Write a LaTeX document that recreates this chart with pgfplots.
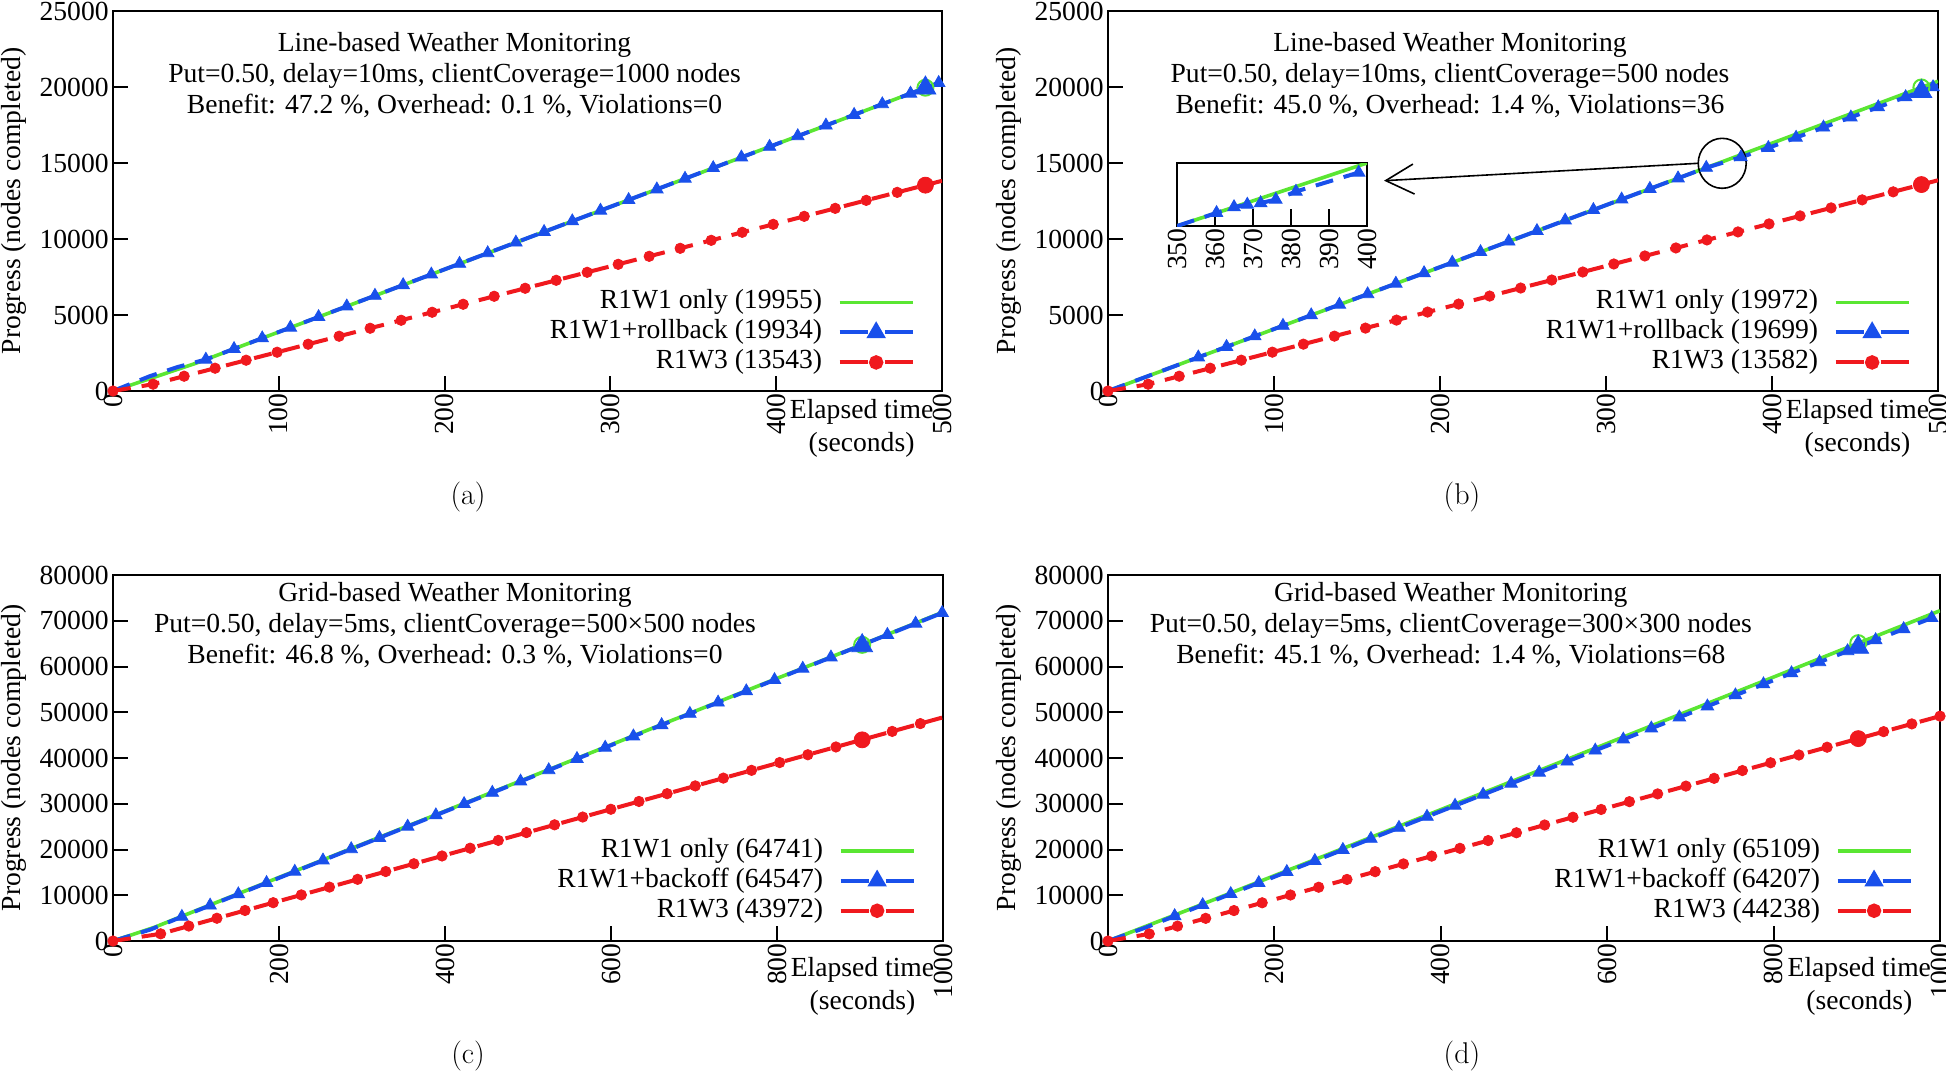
\documentclass[border=0pt]{standalone}
\usepackage{fontspec}
\newfontfamily\tms{Liberation Serif}
\usepackage{pgfplots}
\usepackage{pgfplotstable}
\pgfplotsset{compat=1.18}
\usetikzlibrary{arrows.meta}

\definecolor{cgreen}{RGB}{90,230,50}
\definecolor{cblue}{RGB}{25,80,235}
\definecolor{cred}{RGB}{240,25,30}
\newcommand\txt{\tms\fontsize{13.8pt}{15.5pt}\selectfont}

% ---------------- panel (a) ----------------
\pgfplotstableread{
t v
0 0
50 1826
100 3885
150 5943
200 8002
250 10060
300 12119
350 14177
400 16236
450 18294
490 19955
500 20352
}\greenA
\pgfplotstableread{
t v
0 0
22 967
39 1579
56 2073
73 2773
90 3473
107 4173
124 4873
141 5573
158 6273
175 6973
192 7673
209 8373
226 9073
243 9773
260 10473
277 11173
294 11873
311 12573
328 13273
345 13973
362 14673
379 15373
396 16073
413 16773
430 17473
447 18173
464 18873
481 19573
498 20273
}\blueA
\pgfplotstableread{
t v
0 0
24.2 449
42.9 974
61.6 1500
80.3 2026
99 2552
117.7 3078
136.4 3604
155.1 4129
173.8 4655
192.5 5181
211.2 5707
229.9 6233
248.6 6759
267.3 7284
286 7810
304.7 8336
323.4 8862
342.1 9388
360.8 9914
379.5 10440
398.2 10965
416.9 11491
435.6 12017
454.3 12543
473 13069
500 13828
}\redA
% ---------------- panel (b) ----------------
\pgfplotstableread{
t v
0 0
50 2038
100 4076
150 6114
200 8152
250 10190
300 12228
350 14266
400 16304
450 18342
490 19972
500 20380
}\greenB
\pgfplotstableread{
t v
0 0
20.4 832
37.4 1524
54.4 2217
71.4 2910
88.4 3603
105.4 4296
122.4 4989
139.4 5682
156.4 6375
173.4 7068
190.4 7761
207.4 8454
224.4 9147
241.4 9840
258.4 10532
275.4 11225
292.4 11918
309.4 12611
326.4 13304
343.4 13997
360.4 14690
381.3 15381
397.8 15997
414.5 16672
431 17340
447.5 18006
464 18673
480.5 19340
497 19990
500 20110
}\blueB
\pgfplotstableread{
t v
0 0
24.2 446
42.9 974
61.6 1501
80.3 2028
99 2556
117.7 3083
136.4 3610
155.1 4138
173.8 4665
192.5 5193
211.2 5720
229.9 6247
248.6 6775
267.3 7302
286 7829
304.7 8357
323.4 8884
342.1 9411
360.8 9939
379.5 10466
398.2 10993
416.9 11521
435.6 12048
454.3 12575
473 13103
500 13864
}\redB
\pgfplotstableread{
t v
350 14266
360.4 14690
365 14880
368.5 14960
372 15010
376 15120
381.3 15381
397.8 15997
400 16085
}\blueInset
% ---------------- panel (c) ----------------
\pgfplotstableread{
t v
0 0
50 3000
100 6650
200 13900
300 21150
400 28400
500 35650
600 42900
700 50150
800 57400
902 64741
1000 71900
}\greenC
\pgfplotstableread{
t v
0 0
45 2500
83 5313
117 7778
151 10243
185 12708
219 15173
253 17638
287 20103
321 22568
355 25033
389 27498
423 29963
457 32428
491 34893
525 37358
559 39823
593 42288
627 44753
661 47218
695 49683
729 52148
763 54613
797 57078
831 59543
865 62008
899 64473
933 66938
967 69403
999 71723
}\blueC
\pgfplotstableread{
t v
0 0
57.4 1573
91.3 3275
125.2 4977
159.1 6679
193 8381
226.9 10082
260.8 11784
294.7 13486
328.6 15188
362.5 16890
396.4 18591
430.3 20293
464.2 21995
498.1 23697
532 25398
565.9 27100
599.8 28802
633.7 30504
667.6 32206
701.5 33907
735.4 35609
769.3 37311
803.2 39013
837.1 40714
871 42416
904.9 44118
938.8 45820
972.7 47522
1000 48892
}\redC
% ---------------- panel (d) ----------------
\pgfplotstableread{
t v
0 0
100 7080
200 14290
300 21500
400 28720
500 35950
600 43190
700 50440
800 57700
901.7 65109
1000 72200
}\greenD
\pgfplotstableread{
t v
0 0
46 3000
80.1 5465
113.8 7878
147.5 10291
181.2 12704
214.9 15117
248.6 17530
282.3 19943
316 22356
349.7 24769
383.4 27181
417.1 29594
450.8 32007
484.5 34420
518.2 36833
551.9 39246
585.6 41659
619.3 44072
653 46485
686.7 48898
720.4 51311
754.1 53724
787.8 56136
821.5 58549
855.2 60962
888.9 63375
922.6 65788
956.3 68201
990 70614
1000 71330
}\blueD
\pgfplotstableread{
t v
0 0
49.5 1557
83.5 3260
117.4 4957
151.4 6660
185.3 8358
219.3 10061
253.2 11758
287.2 13461
321.1 15159
355.1 16861
389 18559
423 20262
456.9 21960
490.9 23662
524.8 25360
558.8 27063
592.7 28760
626.7 30463
660.6 32161
694.6 33864
728.5 35561
762.5 37264
796.4 38962
830.4 40664
864.3 42362
898.2 44060
932.2 45763
966.1 47460
1000 49158
}\redD

\pgfplotsset{
 gline/.style={color=cgreen, line width=1.8pt, solid, mark=none},
 bline/.style={color=cblue, line width=2pt, dash pattern=on 9pt off 5.5pt, mark=none},
 rline/.style={color=cred, line width=2pt, dash pattern=on 9pt off 5.5pt, mark=none},
 bmk/.style={color=cblue, only marks, mark=triangle*, mark size=3.6pt, mark options={solid}},
 rmk/.style={color=cred, only marks, mark=*, mark size=2.6pt, mark options={solid}},
 gbig/.style={color=cgreen, only marks, mark=o, mark size=4pt, mark options={solid, line width=1pt}},
 bbig/.style={color=cblue, only marks, mark=triangle*, mark size=6pt, mark options={solid}},
 rbig/.style={color=cred, only marks, mark=*, mark size=4pt, mark options={solid}},
 panel/.style={
  scale only axis,
  axis line style={line width=1.1pt},
  tick style={line width=1pt, black},
  major tick length=7.5pt,
  tick align=inside,
  tick pos=left,
  tick label style={font=\tms\fontsize{13.8pt}{16pt}\selectfont},
  label style={font=\tms\fontsize{13.8pt}{16.5pt}\selectfont},
  /pgf/number format/assume math mode=true,
  /pgf/number format/set thousands separator={},
  scaled ticks=false,
  xticklabel style={rotate=90, anchor=east, inner sep=1pt},
  yticklabel style={inner sep=2pt},
  ylabel={Progress (nodes completed)},
  ylabel style={at={(axis description cs:-0.1195,0.5)}, anchor=center},
  xlabel={Elapsed time\\(seconds)},
  xlabel style={at={(axis description cs:0.903,0)}, anchor=north, align=center, inner sep=0pt},
  legend style={draw=none, fill=none, font=\txt, inner sep=0pt, row sep=0.5pt, column sep=7.25pt,
     anchor=south east, nodes={inner sep=0.5pt, text height=10pt, text depth=3.5pt}},
  legend cell align=right,
  legend plot pos=right,
  legend image code/.code={\draw[mark repeat=2,mark phase=2,##1] plot coordinates {(0pt,0pt) (18.25pt,0pt) (36.5pt,0pt)};},
 },
}

\begin{document}
\begin{tikzpicture}
\useasboundingbox (0,0) rectangle (973pt,-536.5pt);

% ===== (a) =====
\begin{axis}[panel, at={(56.5pt,-195.5pt)}, anchor=south west, width=414.5pt, height=190pt,
 xmin=0, xmax=500, ymin=0, ymax=25000, xtick={0,100,200,300,400,500}, ytick={0,5000,10000,15000,20000,25000},
 legend style={at={(0.9675,0.036)}}, xlabel style={yshift=-3.8pt}]
\addlegendimage{color=cgreen, line width=1.8pt, solid, mark=none}
\addlegendentry{R1W1 only (19955)}
\addlegendimage{color=cblue, line width=2pt, dash pattern=on 14pt off 8.5pt, mark=triangle*, mark size=3.6pt, mark options={solid}}
\addlegendentry{R1W1+rollback (19934)}
\addlegendimage{color=cred, line width=2pt, dash pattern=on 14pt off 8.5pt, mark=*, mark size=2.6pt, mark options={solid}}
\addlegendentry{R1W3 (13543)}
\addplot[gline, forget plot] table {\greenA};
\addplot[bline, forget plot] table {\blueA};
\addplot[bmk, forget plot, restrict x to domain=50:500] table {\blueA};
\addplot[rline, forget plot] table {\redA};
\addplot[rmk, forget plot, restrict x to domain=0:480] table {\redA};
\addplot[gbig, forget plot] coordinates {(490,19955)};
\addplot[bbig, forget plot] coordinates {(490,19934)};
\addplot[rbig, forget plot] coordinates {(490,13543)};
\node[anchor=north, align=center, font=\txt, inner sep=0pt, yshift=-10.3pt] at (rel axis cs:0.412,1)
 {Line-based Weather Monitoring\\Put=0.50, delay=10ms, clientCoverage=1000 nodes\\Benefit: 47.2 \%, Overhead: 0.1 \%, Violations=0};
\end{axis}

% ===== (b) =====
\begin{axis}[panel, at={(554pt,-195.5pt)}, anchor=south west, width=415pt, height=190pt,
 xmin=0, xmax=500, ymin=0, ymax=25000, xtick={0,100,200,300,400,500}, ytick={0,5000,10000,15000,20000,25000},
 legend style={at={(0.9675,0.036)}}, xlabel style={yshift=-3.8pt}]
\addlegendimage{color=cgreen, line width=1.8pt, solid, mark=none}
\addlegendentry{R1W1 only (19972)}
\addlegendimage{color=cblue, line width=2pt, dash pattern=on 14pt off 8.5pt, mark=triangle*, mark size=3.6pt, mark options={solid}}
\addlegendentry{R1W1+rollback (19699)}
\addlegendimage{color=cred, line width=2pt, dash pattern=on 14pt off 8.5pt, mark=*, mark size=2.6pt, mark options={solid}}
\addlegendentry{R1W3 (13582)}
\addplot[gline, forget plot] table {\greenB};
\addplot[bline, forget plot] table {\blueB};
\addplot[bmk, forget plot, restrict x to domain=50:498] table {\blueB};
\addplot[rline, forget plot] table {\redB};
\addplot[rmk, forget plot, restrict x to domain=0:480] table {\redB};
\addplot[gbig, forget plot] coordinates {(490,19972)};
\addplot[bbig, forget plot] coordinates {(490,19699)};
\addplot[rbig, forget plot] coordinates {(490,13582)};
\node[anchor=north, align=center, font=\txt, inner sep=0pt, yshift=-10.3pt] at (rel axis cs:0.412,1)
 {Line-based Weather Monitoring\\Put=0.50, delay=10ms, clientCoverage=500 nodes\\Benefit: 45.0 \%, Overhead: 1.4 \%, Violations=36};
\draw[line width=0.8pt] (axis cs:370,14980) ellipse [x radius=12pt, y radius=12.5pt];
\draw[line width=0.8pt, -{Straight Barb[length=14pt, width=15pt]}] (axis cs:355.4,14980) -- (axis cs:166.3,13836);
\end{axis}

% inset of (b)
\begin{axis}[scale only axis, at={(588.5pt,-113pt)}, anchor=south west, width=95pt, height=31.5pt,
 xmin=350, xmax=400, ymin=14266, ymax=16304, xtick={350,360,370,380,390,400}, ytick=\empty,
 tick align=inside, tick pos=left, major tick length=8.5pt,
 axis line style={line width=1pt}, tick style={line width=1pt, black},
 xticklabel style={rotate=90, anchor=east, inner sep=1pt, font=\tms\fontsize{13.8pt}{16pt}\selectfont},
 /pgf/number format/assume math mode=true,
 axis background/.style={fill=white}]
\addplot[gline] coordinates {(350,14266) (400,16304)};
\addplot[bline] table {\blueInset};
\addplot[bmk, restrict x to domain=355:399] table {\blueInset};
\end{axis}

% ===== (c) =====
\begin{axis}[panel, at={(56.5pt,-470.5pt)}, anchor=south west, width=415pt, height=183pt,
 xmin=0, xmax=1000, ymin=0, ymax=80000, xtick={0,200,400,600,800,1000}, ytick={0,10000,20000,30000,40000,50000,60000,70000,80000},
 legend style={at={(0.9675,0.042)}}, xlabel style={yshift=-8.2pt}]
\addlegendimage{color=cgreen, line width=1.8pt, solid, mark=none}
\addlegendentry{R1W1 only (64741)}
\addlegendimage{color=cblue, line width=2pt, dash pattern=on 14pt off 8.5pt, mark=triangle*, mark size=3.6pt, mark options={solid}}
\addlegendentry{R1W1+backoff (64547)}
\addlegendimage{color=cred, line width=2pt, dash pattern=on 14pt off 8.5pt, mark=*, mark size=2.6pt, mark options={solid}}
\addlegendentry{R1W3 (43972)}
\addplot[gline, forget plot] table {\greenC};
\addplot[bline, forget plot] table {\blueC};
\addplot[bmk, forget plot, restrict x to domain=60:1000] table {\blueC};
\addplot[rline, forget plot] table {\redC};
\addplot[rmk, forget plot, restrict x to domain=0:990] table {\redC};
\addplot[gbig, forget plot] coordinates {(902.6,64741)};
\addplot[bbig, forget plot] coordinates {(902.6,64547)};
\addplot[rbig, forget plot] coordinates {(902.6,43972)};
\node[anchor=north, align=center, font=\txt, inner sep=0pt, yshift=-3.5pt] at (rel axis cs:0.412,1)
 {Grid-based Weather Monitoring\\Put=0.50, delay=5ms, clientCoverage=500×500 nodes\\Benefit: 46.8 \%, Overhead: 0.3 \%, Violations=0};
\end{axis}

% ===== (d) =====
\begin{axis}[panel, at={(554pt,-470.5pt)}, anchor=south west, width=416pt, height=183pt,
 xmin=0, xmax=1000, ymin=0, ymax=80000, xtick={0,200,400,600,800,1000}, ytick={0,10000,20000,30000,40000,50000,60000,70000,80000},
 legend style={at={(0.9675,0.042)}}, xlabel style={yshift=-8.2pt}]
\addlegendimage{color=cgreen, line width=1.8pt, solid, mark=none}
\addlegendentry{R1W1 only (65109)}
\addlegendimage{color=cblue, line width=2pt, dash pattern=on 14pt off 8.5pt, mark=triangle*, mark size=3.6pt, mark options={solid}}
\addlegendentry{R1W1+backoff (64207)}
\addlegendimage{color=cred, line width=2pt, dash pattern=on 14pt off 8.5pt, mark=*, mark size=2.6pt, mark options={solid}}
\addlegendentry{R1W3 (44238)}
\addplot[gline, forget plot] table {\greenD};
\addplot[bline, forget plot] table {\blueD};
\addplot[bmk, forget plot, restrict x to domain=60:995] table {\blueD};
\addplot[rline, forget plot] table {\redD};
\addplot[rmk, forget plot] table {\redD};
\addplot[gbig, forget plot] coordinates {(901.7,65109)};
\addplot[bbig, forget plot] coordinates {(901.7,64207)};
\addplot[rbig, forget plot] coordinates {(901.7,44238)};
\node[anchor=north, align=center, font=\txt, inner sep=0pt, yshift=-3.5pt] at (rel axis cs:0.412,1)
 {Grid-based Weather Monitoring\\Put=0.50, delay=5ms, clientCoverage=300×300 nodes\\Benefit: 45.1 \%, Overhead: 1.4 \%, Violations=68};
\end{axis}

% captions
\node[font=\fontsize{15pt}{18pt}\selectfont] at (234pt,-248.5pt) {(a)};
\node[font=\fontsize{15pt}{18pt}\selectfont] at (731pt,-248.5pt) {(b)};
\node[font=\fontsize{15pt}{18pt}\selectfont] at (234pt,-528pt) {(c)};
\node[font=\fontsize{15pt}{18pt}\selectfont] at (731pt,-528pt) {(d)};
\end{tikzpicture}
\end{document}
